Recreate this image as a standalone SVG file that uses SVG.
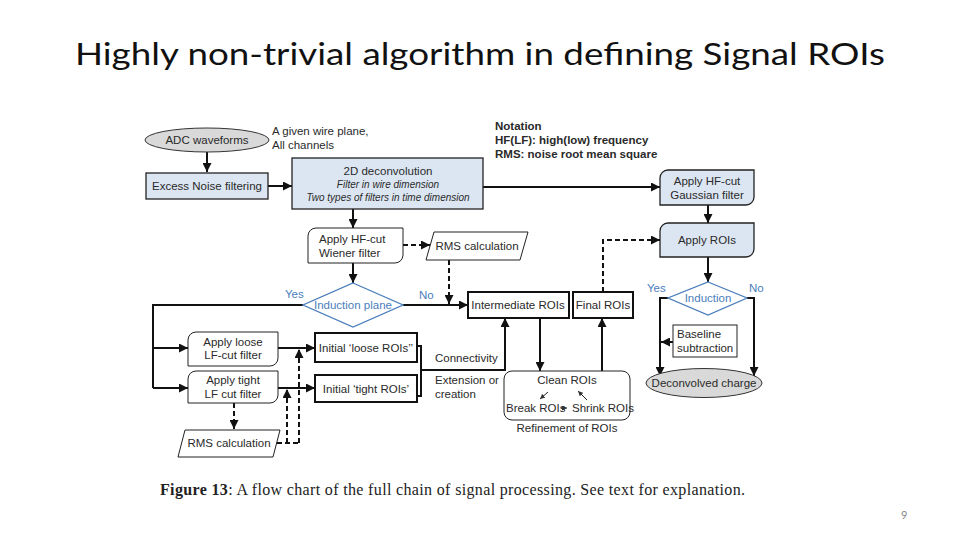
<svg xmlns="http://www.w3.org/2000/svg" width="960" height="540" viewBox="0 0 960 540">
<style>
.t{font-family:"Liberation Sans",Arial,sans-serif;font-size:11.5px;fill:#2a2a2a}
.c{text-anchor:middle}
.i{font-style:italic;font-size:10px}
.b{font-weight:bold}
.blue{fill:#4a7ebb}
.ln{fill:none;stroke:#111;stroke-width:2}
.dl{fill:none;stroke:#111;stroke-width:2;stroke-dasharray:5,3}
.thin{fill:none;stroke:#222;stroke-width:1}
.bx{fill:#fff;stroke:#222;stroke-width:1}
.bxb{fill:#dce6f2;stroke:#222;stroke-width:1.3}
.bxk{fill:#fff;stroke:#111;stroke-width:2}
.el{fill:#d9d9d9;stroke:#333;stroke-width:1}
.dia{fill:#fff;stroke:#4a7ebb;stroke-width:1.3}
</style>
<defs>
<marker id="a" viewBox="0 0 10 10" refX="10" refY="5" markerWidth="9" markerHeight="9" markerUnits="userSpaceOnUse" orient="auto"><path d="M0,0 L10,5 L0,10 z" fill="#111"/></marker>
<marker id="s" viewBox="0 0 10 10" refX="10" refY="5" markerWidth="5" markerHeight="5" markerUnits="userSpaceOnUse" orient="auto"><path d="M0,0 L10,5 L0,10 z" fill="#333"/></marker>
</defs>
<rect width="960" height="540" fill="#fff"/>
<text x="480" y="65" text-anchor="middle" font-family="Lato,'Open Sans',sans-serif" font-size="31" fill="#111" textLength="810" lengthAdjust="spacingAndGlyphs">Highly non-trivial algorithm in defining Signal ROIs</text>

<g id="connectors">
<path class="ln" d="M207,152 V172" marker-end="url(#a)"/>
<path class="ln" d="M268,186 H292" marker-end="url(#a)"/>
<path class="ln" d="M483,187 H660" marker-end="url(#a)"/>
<path class="ln" d="M353,209 V228" marker-end="url(#a)"/>
<path class="dl" d="M403,245 H430" marker-end="url(#a)"/>
<path class="dl" d="M449,260 V304" marker-end="url(#a)"/>
<path class="ln" d="M353,263 V283" marker-end="url(#a)"/>
<path class="ln" d="M403,305 H468" marker-end="url(#a)"/>
<path class="ln" d="M303,305 H153 V388"/>
<path class="ln" d="M153,348 H188" marker-end="url(#a)"/>
<path class="ln" d="M153,388 H188" marker-end="url(#a)"/>
<path class="ln" d="M278,348 H315" marker-end="url(#a)"/>
<path class="ln" d="M278,388 H315" marker-end="url(#a)"/>
<path class="dl" d="M234,403 V429" marker-end="url(#a)"/>
<path class="dl" d="M277,443 H299"/>
<path class="dl" d="M287,443 V389" marker-end="url(#a)"/>
<path class="dl" d="M299,443 V349" marker-end="url(#a)"/>
<path class="ln" d="M417,346 H421 V396 H417"/>
<path class="ln" d="M421,370 H505 V318" marker-end="url(#a)"/>
<path class="ln" d="M540,318 V371" marker-end="url(#a)"/>
<path class="ln" d="M602,371 V318" marker-end="url(#a)"/>
<path class="dl" d="M603,292 V240 H660" marker-end="url(#a)"/>
<path class="ln" d="M708,205 V223" marker-end="url(#a)"/>
<path class="ln" d="M708,257 V282" marker-end="url(#a)"/>
<path class="ln" d="M668,298 H660 V376" marker-end="url(#a)"/>
<path class="ln" d="M747,298 H754 V376" marker-end="url(#a)"/>
<path class="ln" d="M673,342 H661" marker-end="url(#a)"/>
</g>

<g id="adc"><ellipse class="el" cx="207" cy="140" rx="62" ry="12"/><text class="t c" x="207" y="144">ADC waveforms</text></g>
<g id="wireplane"><text class="t" x="272" y="135">A given wire plane,</text><text class="t" x="272" y="149">All channels</text></g>
<g id="notation"><text class="t b" x="495" y="130" font-size="11">Notation</text><text class="t b" x="495" y="144" font-size="11">HF(LF): high(low) frequency</text><text class="t b" x="495" y="158" font-size="11">RMS: noise root mean square</text></g>
<g id="excess"><rect class="bxb" x="146" y="173" width="122" height="26"/><text class="t c" x="207" y="190">Excess Noise filtering</text></g>
<g id="deconv"><rect class="bxb" x="292" y="158" width="191" height="51"/><text class="t c" x="388" y="175">2D deconvolution</text><text class="t c i" x="388" y="188">Filter in wire dimension</text><text class="t c i" x="388" y="201">Two types of filters in time dimension</text></g>
<g id="gaussian"><path class="bxb" d="M668,170 H754 V197 A8,8 0 0 1 746,205 H660 V178 A8,8 0 0 1 668,170 Z"/><text class="t c" x="707" y="185">Apply HF-cut</text><text class="t c" x="707" y="199">Gaussian filter</text></g>
<g id="applyrois"><path class="bxb" d="M668,223 H754 V249 A8,8 0 0 1 746,257 H660 V231 A8,8 0 0 1 668,223 Z"/><text class="t c" x="707" y="244">Apply ROIs</text></g>
<g id="wiener"><path class="bx" d="M316,228 H403 V255 A8,8 0 0 1 395,263 H308 V236 A8,8 0 0 1 316,228 Z"/><text class="t" x="319" y="243">Apply HF-cut</text><text class="t" x="319" y="257">Wiener filter</text></g>
<g id="rms1"><polygon class="bx" points="434,232 528,232 520,260 426,260"/><text class="t c" x="477" y="250">RMS calculation</text></g>
<g id="indplane"><polygon class="dia" points="353,283 403,305 353,327 303,305"/><text class="t c blue" x="353" y="309">Induction plane</text><text class="t blue" x="285" y="298">Yes</text><text class="t blue" x="419" y="299">No</text></g>
<g id="intermediate"><rect class="bxk" x="468" y="292" width="101" height="26"/><text class="t c" x="518" y="309">Intermediate ROIs</text></g>
<g id="final"><rect class="bxk" x="573" y="292" width="60" height="26"/><text class="t c" x="603" y="309">Final ROIs</text></g>
<g id="loose"><path class="bx" d="M196,332 H278 V358 A8,8 0 0 1 270,366 H188 V340 A8,8 0 0 1 196,332 Z"/><text class="t c" x="233" y="346">Apply loose</text><text class="t c" x="233" y="359">LF-cut filter</text></g>
<g id="tight"><path class="bx" d="M196,371 H278 V395 A8,8 0 0 1 270,403 H188 V379 A8,8 0 0 1 196,371 Z"/><text class="t c" x="233" y="384">Apply tight</text><text class="t c" x="233" y="398">LF cut filter</text></g>
<g id="initloose"><rect class="bxk" x="315" y="333" width="102" height="29"/><text class="t c" x="366" y="352">Initial ‘loose ROIs’’</text></g>
<g id="inittight"><rect class="bxk" x="315" y="375" width="102" height="27"/><text class="t c" x="366" y="393">Initial ‘tight ROIs’</text></g>
<g id="rms2"><polygon class="bx" points="185,430 280,430 273,457 178,457"/><text class="t c" x="229" y="447">RMS calculation</text></g>
<g id="connlabels"><text class="t" x="435" y="362">Connectivity</text><text class="t" x="435" y="384">Extension or</text><text class="t" x="435" y="398">creation</text></g>
<g id="refine"><rect class="bx" x="504" y="371" width="126" height="49" rx="8"/><text class="t c" x="567" y="384" font-size="10">Clean ROIs</text><text class="t" x="506" y="412" font-size="9.5">Break ROIs</text><text class="t" x="572" y="412" font-size="9.5">Shrink ROIs</text>
<path class="thin" d="M548,392 L540,399" marker-end="url(#s)"/><path class="thin" d="M587,400 L578,391" marker-end="url(#s)"/><path class="thin" d="M561,408 H567" marker-end="url(#s)"/>
<text class="t c" x="567" y="432" font-size="10.5">Refinement of ROIs</text></g>
<g id="induction"><polygon class="dia" points="708,282 747,298 708,315 668,298"/><text class="t c blue" x="708" y="302">Induction</text><text class="t blue" x="647" y="292">Yes</text><text class="t blue" x="749" y="292">No</text></g>
<g id="baseline"><rect class="bx" x="673" y="325" width="64" height="32"/><text class="t" x="677" y="338">Baseline</text><text class="t" x="677" y="352">subtraction</text></g>
<g id="deconvolved"><ellipse class="el" cx="704" cy="383" rx="58" ry="14.5"/><text class="t c" x="704" y="387">Deconvolved charge</text></g>

<text x="160" y="495" font-family="'Liberation Serif','Times New Roman',serif" font-size="16" fill="#222" textLength="585" lengthAdjust="spacing"><tspan font-weight="bold">Figure 13</tspan>: A flow chart of the full chain of signal processing. See text for explanation.</text>
<text x="901" y="519" font-family="Lato,'Open Sans',sans-serif" font-size="11" fill="#888">9</text>
</svg>
